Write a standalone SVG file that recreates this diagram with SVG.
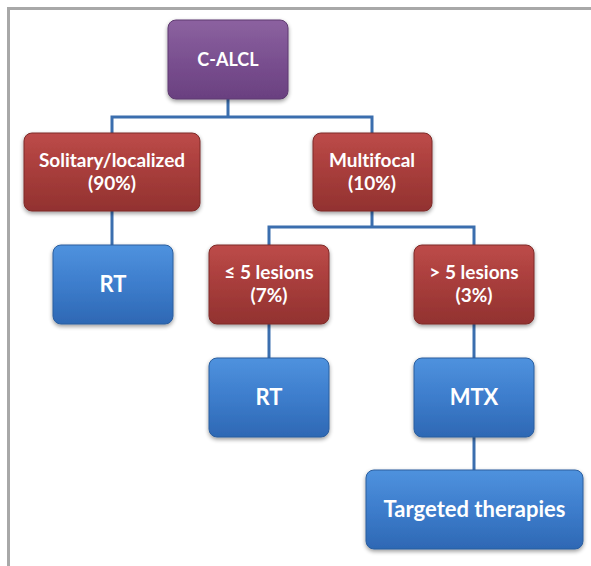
<svg xmlns="http://www.w3.org/2000/svg" width="591" height="566" viewBox="0 0 591 566">
<defs>
<linearGradient id="gP" x1="0" y1="0" x2="0" y2="1"><stop offset="0" stop-color="#8C62A0"/><stop offset="0.5" stop-color="#7A5090"/><stop offset="1" stop-color="#6A4080"/></linearGradient>
<linearGradient id="gR" x1="0" y1="0" x2="0" y2="1"><stop offset="0" stop-color="#BD4B49"/><stop offset="0.5" stop-color="#A73D3B"/><stop offset="1" stop-color="#923230"/></linearGradient>
<linearGradient id="gB" x1="0" y1="0" x2="0" y2="1"><stop offset="0" stop-color="#4F92DE"/><stop offset="0.5" stop-color="#3D7DCC"/><stop offset="1" stop-color="#2E68B4"/></linearGradient>
<filter id="sh" x="-10%" y="-10%" width="120%" height="130%"><feGaussianBlur in="SourceAlpha" stdDeviation="2"/><feOffset dy="2"/><feComponentTransfer><feFuncA type="linear" slope="0.4"/></feComponentTransfer><feMerge><feMergeNode/><feMergeNode in="SourceGraphic"/></feMerge></filter>
</defs>
<style>
.p{fill:url(#gP);stroke:#5E3A70;stroke-width:1;filter:url(#sh)}
.r{fill:url(#gR);stroke:#7E2A28;stroke-width:1;filter:url(#sh)}
.b{fill:url(#gB);stroke:#2A5E9E;stroke-width:1;filter:url(#sh)}
.t{fill:#fff;font-family:Lato,"Open Sans","Liberation Sans",sans-serif;font-weight:bold;font-size:18px;text-anchor:middle;font-variant-ligatures:none}
.tr{font-size:19px}
.tb{font-size:22px}
.c{fill:none;stroke:#3B6EAE;stroke-width:3}
.frame{fill:none;stroke:#A8A8A8;stroke-width:3}
</style>
<rect width="591" height="566" fill="#fff"/>
<path class="frame" d="M8.5 566 V8.5 H591"/>
<g id="connectors">
<path class="c" d="M228 99 V117 M112 133 V117 H372 V133"/>
<path class="c" d="M372 211 V227 M269 245 V227 H474 V245"/>
<path class="c" d="M112 211 V245"/>
<path class="c" d="M269 324 V358"/>
<path class="c" d="M474 324 V358"/>
<path class="c" d="M474 437 V470"/>
</g>
<g id="n-calcl"><rect class="p" x="168" y="20" width="120" height="79" rx="8"/><text class="t" x="228" y="66">C-ALCL</text></g>
<g id="n-solitary"><rect class="r" x="24" y="133" width="176" height="78" rx="8"/><text class="t tr" x="112" y="167">Solitary/localized</text><text class="t tr" x="112" y="190">(90%)</text></g>
<g id="n-multifocal"><rect class="r" x="313" y="133" width="119" height="78" rx="8"/><text class="t tr" x="372" y="167">Multifocal</text><text class="t tr" x="372" y="190">(10%)</text></g>
<g id="n-rt1"><rect class="b" x="53" y="245" width="120" height="79" rx="8"/><text class="t tb" x="113" y="292">RT</text></g>
<g id="n-le5"><rect class="r" x="209" y="245" width="120" height="79" rx="8"/><text class="t tr" x="269" y="279">≤ 5 lesions</text><text class="t tr" x="269" y="302">(7%)</text></g>
<g id="n-gt5"><rect class="r" x="414" y="245" width="120" height="79" rx="8"/><text class="t tr" x="474" y="279">&gt; 5 lesions</text><text class="t tr" x="474" y="302">(3%)</text></g>
<g id="n-rt2"><rect class="b" x="209" y="358" width="120" height="79" rx="8"/><text class="t tb" x="269" y="405">RT</text></g>
<g id="n-mtx"><rect class="b" x="414" y="358" width="120" height="79" rx="8"/><text class="t tb" x="474" y="405">MTX</text></g>
<g id="n-targeted"><rect class="b" x="366" y="470" width="217" height="79" rx="8"/><text class="t tb" x="474.5" y="517">Targeted therapies</text></g>
</svg>
